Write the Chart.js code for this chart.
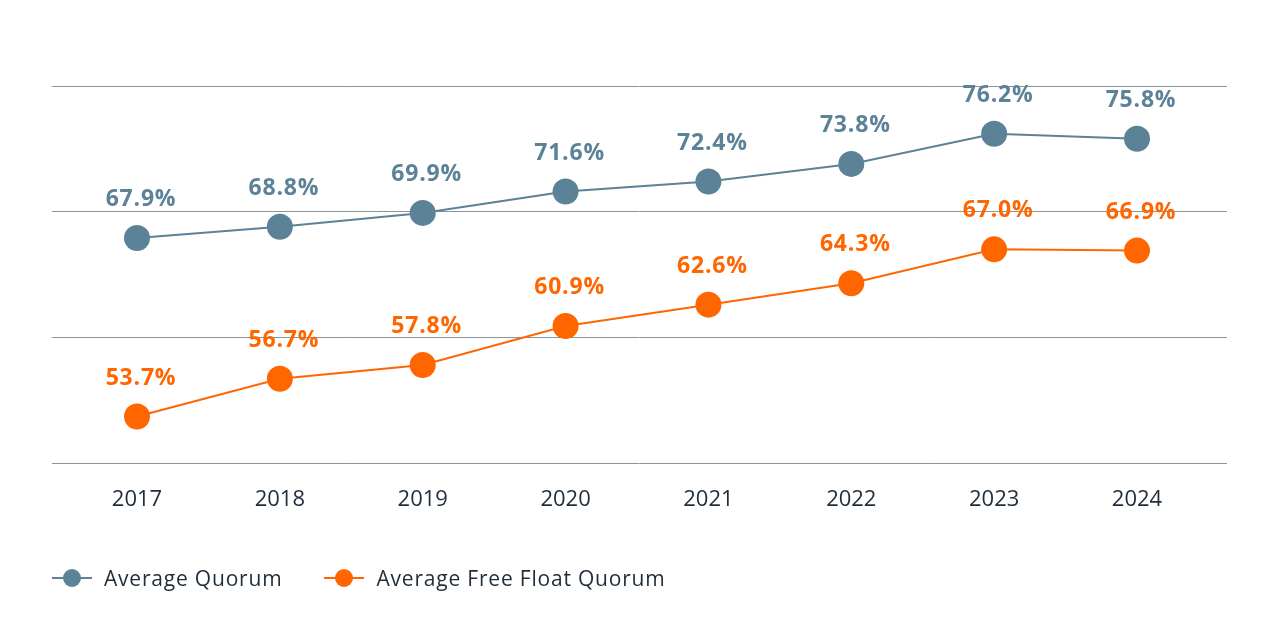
<!DOCTYPE html>
<html lang="en">
<head>
    <meta charset="UTF-8">
    <title>Average Quorum</title>
    <script src="https://cdn.jsdelivr.net/npm/chart.js"></script>
    <style>
        body { margin: 0; background: #fff; font-family: "Open Sans", sans-serif; }
        #wrap { position: relative; width: 1280px; height: 633px; }
        #legend { position: absolute; left: 52px; top: 564px; display: flex; align-items: center; color: #1f2d3a; font-size: 21px; letter-spacing: 0.8px; }
        .item { display: flex; align-items: center; margin-right: 42px; }
        .key { position: relative; width: 40px; height: 28px; margin-right: 12px; }
        .key .ln { position: absolute; left: 0; right: 0; top: 13px; height: 2px; }
        .key .dot { position: absolute; left: 11px; top: 5px; width: 18px; height: 18px; border-radius: 50%; }
    </style>
</head>
<body>
    <div id="wrap">
        <canvas id="chart"></canvas>
        <div id="legend"></div>
    </div>

    <script>
        const years = ['2017', '2018', '2019', '2020', '2021', '2022', '2023', '2024'];
        const avgQuorum = [67.9, 68.8, 69.9, 71.6, 72.4, 73.8, 76.2, 75.8];
        const freeFloatQuorum = [53.7, 56.7, 57.8, 60.9, 62.6, 64.3, 67.0, 66.9];
        const yTicks = [50, 60, 70, 80];

        const blue = '#5b8297';
        const orange = '#ff6600';
        const textColor = '#1f2d3a';

        const series = [
            { label: 'Average Quorum', values: avgQuorum, color: blue },
            { label: 'Average Free Float Quorum', values: freeFloatQuorum, color: orange }
        ];

        // value labels above each point
        const pointLabels = {
            id: 'pointLabels',
            afterDatasetsDraw(chart) {
                const ctx = chart.ctx;
                ctx.save();
                ctx.font = 'bold 23px "Open Sans", sans-serif';
                ctx.letterSpacing = '0.8px';
                ctx.textAlign = 'center';
                ctx.textBaseline = 'alphabetic';
                chart.data.datasets.forEach((ds, i) => {
                    ctx.fillStyle = ds.borderColor;
                    chart.getDatasetMeta(i).data.forEach((pt, j) => {
                        ctx.fillText(ds.data[j].y.toFixed(1) + '%', pt.x + 4, pt.y - 32);
                    });
                });
                ctx.restore();
            }
        };

        new Chart(document.getElementById('chart'), {
            type: 'line',
            data: {
                datasets: series.map(s => ({
                    label: s.label,
                    data: s.values.map((v, i) => ({ x: i, y: v })),
                    borderColor: s.color,
                    backgroundColor: s.color,
                    borderWidth: 2,
                    pointRadius: 13,
                    pointHoverRadius: 13,
                    pointBorderWidth: 0,
                    tension: 0
                }))
            },
            options: {
                responsive: true,
                maintainAspectRatio: false,
                animation: false,
                layout: { padding: { left: 52, right: 53, top: 86, bottom: 0 } },
                plugins: { legend: { display: false }, tooltip: { enabled: false } },
                scales: {
                    x: {
                        type: 'linear',
                        min: -0.595,
                        max: 7.63,
                        afterBuildTicks: s => { s.ticks = years.map((y, i) => ({ value: i })); },
                        afterFit: s => { s.height = 170; },
                        grid: { display: false },
                        border: { display: false },
                        ticks: {
                            autoSkip: false,
                            maxRotation: 0,
                            padding: 16,
                            color: textColor,
                            font: { family: '"Open Sans", sans-serif', size: 22 },
                            callback: v => years[v]
                        }
                    },
                    y: {
                        min: yTicks[0],
                        max: yTicks[yTicks.length - 1],
                        afterBuildTicks: s => { s.ticks = yTicks.map(v => ({ value: v })); },
                        border: { display: false },
                        grid: { color: '#8a9499', lineWidth: 1, drawTicks: false },
                        ticks: { display: false }
                    }
                }
            },
            plugins: [pointLabels]
        });

        const legend = document.getElementById('legend');
        series.forEach(s => {
            const item = document.createElement('div');
            item.className = 'item';
            item.innerHTML = '<span class="key"><span class="ln" style="background:' + s.color + '"></span>' +
                '<span class="dot" style="background:' + s.color + '"></span></span><span>' + s.label + '</span>';
            legend.appendChild(item);
        });
    </script>
</body>
</html>
